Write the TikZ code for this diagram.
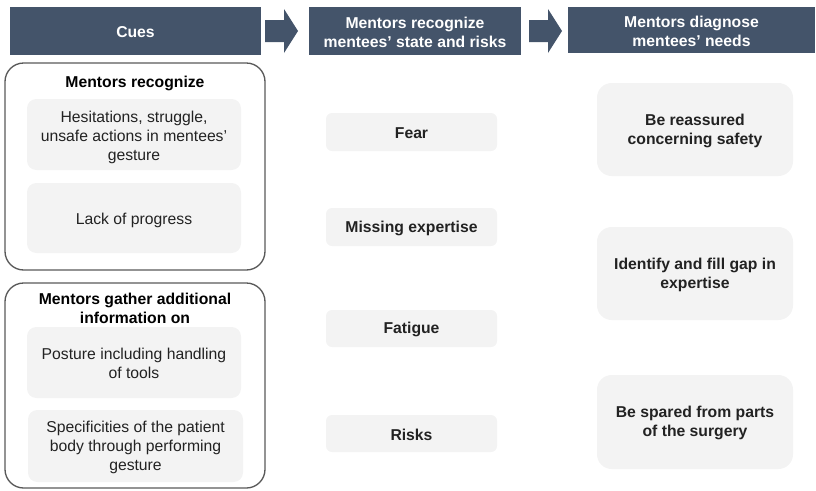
\documentclass[tikz,border=0pt]{standalone}
\usepackage{fontspec}
\setmainfont{Liberation Sans}
\usepackage{tikz}

\definecolor{hdrblue}{HTML}{44546A}
\definecolor{cuefill}{HTML}{F3F3F3}
\definecolor{framegray}{HTML}{595959}
\definecolor{inkgray}{HTML}{222222}

\tikzset{
  plaintxt/.style={inner sep=0pt, align=center, text=inkgray, font=\fontsize{11.8}{14.3}\selectfont},
  boldtxt/.style={plaintxt, font=\fontsize{11.8}{14.3}\selectfont\bfseries},
  hdrtxt/.style={boldtxt, text=white},
}

\begin{document}
\begin{tikzpicture}[x=0.75pt,y=0.75pt,yscale=-1]
\useasboundingbox (0,0) rectangle (816,490);

%Shape: Rectangle [header cues]
\fill [hdrblue] (10,7) rectangle (261,55);
%Shape: Right Arrow
\fill [hdrblue] (265,20) -- (284,20) -- (284,9) -- (298,31) -- (284,53) -- (284,42) -- (265,42) -- cycle;
%Shape: Rectangle [header state]
\fill [hdrblue] (309,7) rectangle (521,55);
%Shape: Right Arrow
\fill [hdrblue] (529,20) -- (548,20) -- (548,9) -- (562,31) -- (548,53) -- (548,42) -- (529,42) -- cycle;
%Shape: Rectangle [header needs]
\fill [hdrblue] (568,7) rectangle (815,53);

%Rounded Rect [frame recognize]
\draw [framegray, line width=1pt, rounded corners=14pt] (5,63) rectangle (265,270);
%Rounded Rect
\fill [cuefill, rounded corners=7pt] (27,99) rectangle (241,170);
%Rounded Rect
\fill [cuefill, rounded corners=7pt] (27,183) rectangle (241,253);

%Rounded Rect [frame gather]
\draw [framegray, line width=1pt, rounded corners=14pt] (5,283) rectangle (265,488);
%Rounded Rect
\fill [cuefill, rounded corners=7pt] (27,327) rectangle (241,398);
%Rounded Rect
\fill [cuefill, rounded corners=7pt] (28,410) rectangle (243,482);

%Rounded Rect [states]
\fill [cuefill, rounded corners=4.5pt] (326,113) rectangle (497,151);
\fill [cuefill, rounded corners=4.5pt] (326,208) rectangle (497,246);
\fill [cuefill, rounded corners=4.5pt] (326,310) rectangle (497,347);
\fill [cuefill, rounded corners=4.5pt] (326,415) rectangle (497,452);

%Rounded Rect [needs]
\fill [cuefill, rounded corners=11pt] (597,83) rectangle (793,176);
\fill [cuefill, rounded corners=11pt] (597,227) rectangle (793,320);
\fill [cuefill, rounded corners=11pt] (597,375) rectangle (793,469);

% Text Node
\draw (135.5,32) node [hdrtxt] (cues) {Cues};
% Text Node
\draw (415,32) node [hdrtxt] (state) {Mentors recognize\\mentees’ state and risks};
% Text Node
\draw (691.5,31) node [hdrtxt] (needs) {Mentors diagnose\\mentees’ needs};

% Text Node
\draw (135,83) node [boldtxt, text=black] (recog) {Mentors recognize};
% Text Node
\draw (134,137) node [plaintxt] (hesit) {Hesitations, struggle,\\unsafe actions in mentees’\\gesture};
% Text Node
\draw (134,220) node [plaintxt] (lack) {Lack of progress};
% Text Node
\draw (135,308.5) node [boldtxt, text=black] (gather) {Mentors gather additional\\information on};
% Text Node
\draw (134,363.5) node [plaintxt] (posture) {Posture including handling\\of tools};
% Text Node
\draw (135.5,447.5) node [plaintxt] (specif) {Specificities of the patient\\body through performing\\gesture};

% Text Node
\draw (411.5,133) node [boldtxt] (fear) {Fear};
% Text Node
\draw (411.5,228) node [boldtxt] (missing) {Missing expertise};
% Text Node
\draw (411.5,329.5) node [boldtxt] (fatigue) {Fatigue};
% Text Node
\draw (411.5,434.5) node [boldtxt] (risks) {Risks};

% Text Node
\draw (695,130.5) node [boldtxt] (reassure) {Be reassured\\concerning safety};
% Text Node
\draw (695,274.5) node [boldtxt] (fillgap) {Identify and fill gap in\\expertise};
% Text Node
\draw (695,423) node [boldtxt] (spared) {Be spared from parts\\of the surgery};

\end{tikzpicture}
\end{document}
